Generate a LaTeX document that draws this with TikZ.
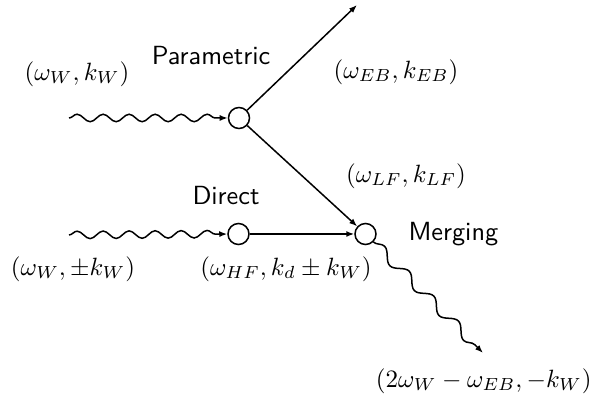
\documentclass[tikz,border=0pt]{standalone}
\usetikzlibrary{decorations.pathmorphing,arrows.meta}
\begin{document}
\begin{tikzpicture}[x=0.4pt,y=-0.4pt,
  vertex/.style={circle,draw,line width=0.6pt,inner sep=0pt,minimum size=8.4pt},
  edge/.style={line width=0.6pt,-{Latex[length=3.2pt,width=2.4pt]}},
  wave/.style={edge,decorate,decoration={snake,segment length=10.4pt,amplitude=1.5pt,post length=2.5pt}},
  lab/.style={inner sep=0pt},
  proc/.style={inner sep=0pt,font=\fontsize{10.5}{12}\selectfont\sffamily}]
\useasboundingbox (0,0) rectangle (595,398);
\node[vertex] (p) at (239,118) {};
\node[vertex] (d) at (238.5,234) {};
\node[vertex] (m) at (365.5,234) {};
\coordinate (w1) at (69,118);
\coordinate (w2) at (69,235);
\coordinate (eb) at (357,5);
\coordinate (out) at (483,353);

\draw[wave] (w1) -- (p);
\draw[wave] (w2) -- (d);
\draw[edge] (p) -- (eb);
\draw[edge] (p) -- (m);
\draw[edge] (d) -- (m);
\draw[wave,decoration={snake,segment length=14pt,amplitude=2pt,post length=2.5pt}] (m) -- (out);

\node[lab] (l1) at (77,74) {$(\omega_W, k_W)$};
\node[proc,anchor=base] (t1) at (211,65) {Parametric};
\node[lab] (l2) at (396,72) {$(\omega_{EB}, k_{EB})$};
\node[lab] (l3) at (406,176) {$(\omega_{LF}, k_{LF})$};
\node[proc,anchor=base] (t2) at (226,205) {Direct};
\node[proc,anchor=base west] (t3) at (408,241) {Merging};
\node[lab] (l4) at (73,269) {$(\omega_W, \pm k_W)$};
\node[lab] (l5) at (286,269) {$(\omega_{HF}, k_d \pm k_W)$};
\node[lab,anchor=east] (l6) at (592,381) {$(2\omega_W - \omega_{EB}, -k_W)$};
\end{tikzpicture}
\end{document}
